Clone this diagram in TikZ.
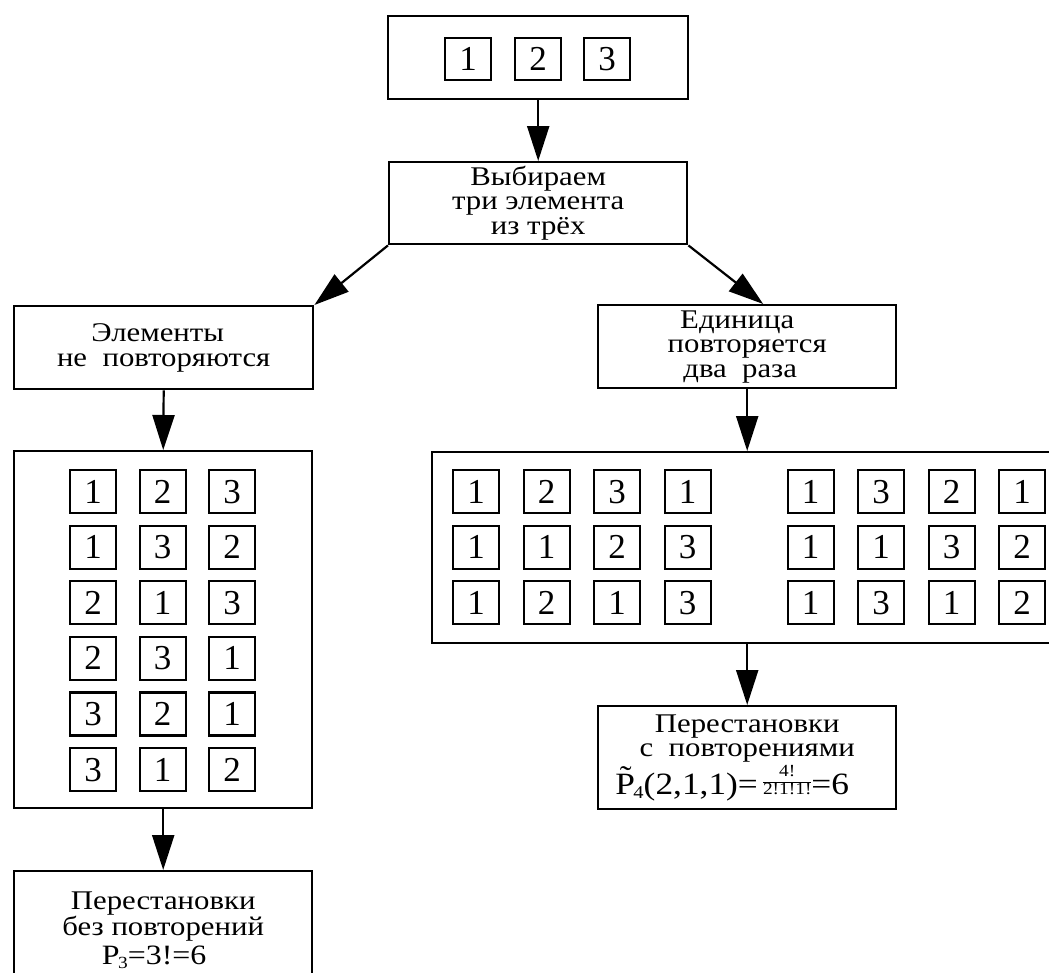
\documentclass[tikz,border=0pt]{standalone}
\usepackage{fontspec}
\setmainfont{Liberation Serif}
\newfontfamily\lblfont{Liberation Serif}[FakeStretch=1.14]
\usetikzlibrary{arrows.meta}
\setlength\arrayrulewidth{1.2pt}
\newcommand\numfrac[2]{{\fontsize{17}{16}\selectfont\begin{tabular}[b]{@{}c@{}}#1\\\hline #2\end{tabular}}}
\begin{document}
\begin{tikzpicture}[x=1pt,y=-1pt,
  frame/.style={draw, line width=2.4pt, inner sep=0pt, anchor=north west, align=center,
    font=\lblfont\fontsize{27}{24.5}\selectfont},
  cell/.style={draw, line width=2.2pt, inner sep=0pt, anchor=north west,
    minimum width=46pt, minimum height=43pt, font=\fontsize{35}{35}\selectfont},
  arr/.style={line width=2.2pt, -{Triangle[length=35pt,width=22pt]}}]
\clip (0,0) rectangle (1049,972);
% top
\node[frame, minimum width=300pt, minimum height=83pt] (src) at (387,15) {};
\foreach \v/\x in {1/444,2/514,3/583} {
  \node[cell, minimum height=42pt] (S\v) at (\x,37) {\v};
}
\node[frame, minimum width=298pt, minimum height=82pt] (choose) at (388,161) {Выбираем\\три элемента\\из трёх};
% left branch
\node[frame, minimum width=299pt, minimum height=83pt] (norep) at (13,305) {Элементы\hspace*{12pt}\\не\ \ повторяются};
\node[frame, minimum width=298pt, minimum height=357pt] (lpanel) at (13,450) {};
\foreach \row [count=\i from 0] in {{1,2,3},{1,3,2},{2,1,3},{2,3,1},{3,2,1},{3,1,2}} {
  \foreach \v [count=\j from 0] in \row {
    \node[cell] (L\i\j) at ({69+69.5*\j},{469+55.6*\i}) {\v};
  }
}
\node[frame, minimum width=298pt, minimum height=118pt] (lres) at (13,870)
  {Перестановки\\без повторений\\[5pt]{\fontsize{28}{28}\selectfont P\kern-1.5pt\raisebox{-4pt}{\fontsize{17}{17}\selectfont 3}=3!=6\hspace*{18pt}}};
% right branch
\node[frame, minimum width=298pt, minimum height=83pt] (rep) at (597,304) {Единица\hspace*{20pt}\\повторяется\\два\ \ раза\hspace*{14pt}};
\node[frame, minimum width=630pt, minimum height=191pt] (rpanel) at (431,451) {};
\foreach \row [count=\i from 0] in {{1,2,3,1,1,3,2,1},{1,1,2,3,1,1,3,2},{1,2,1,3,1,3,1,2}} {
  \foreach \v [count=\j from 0] in \row {
    \node[cell] (R\i\j) at ({452+70.5*\j+52.5*(\j>3)},{469+55.5*\i}) {\v};
  }
}
\node[frame, minimum width=298pt, minimum height=103pt] (rres) at (597,705)
  {Перестановки\\с\ \ повторениями\\[2pt]{\fontsize{31}{31}\selectfont \~{P}\kern-1.5pt\raisebox{-4pt}{\fontsize{18}{18}\selectfont 4}(2,1,1)=\,\numfrac{4!}{2!1!1!}=6\hspace*{30pt}}};
% arrows
\draw[arr] (src.south) -- (choose.north);
\draw[arr] (choose.south west) -- (norep.north east);
\draw[arr] (choose.south east) -- ([xshift=16pt]rep.north);
\draw[arr] (norep.south) -- (lpanel.north);
\draw[arr] (lpanel.south) -- (lres.north);
\draw[arr] (rep.south) -- (rpanel.north);
\draw[arr] (rpanel.south) -- (rres.north);
\end{tikzpicture}
\end{document}
